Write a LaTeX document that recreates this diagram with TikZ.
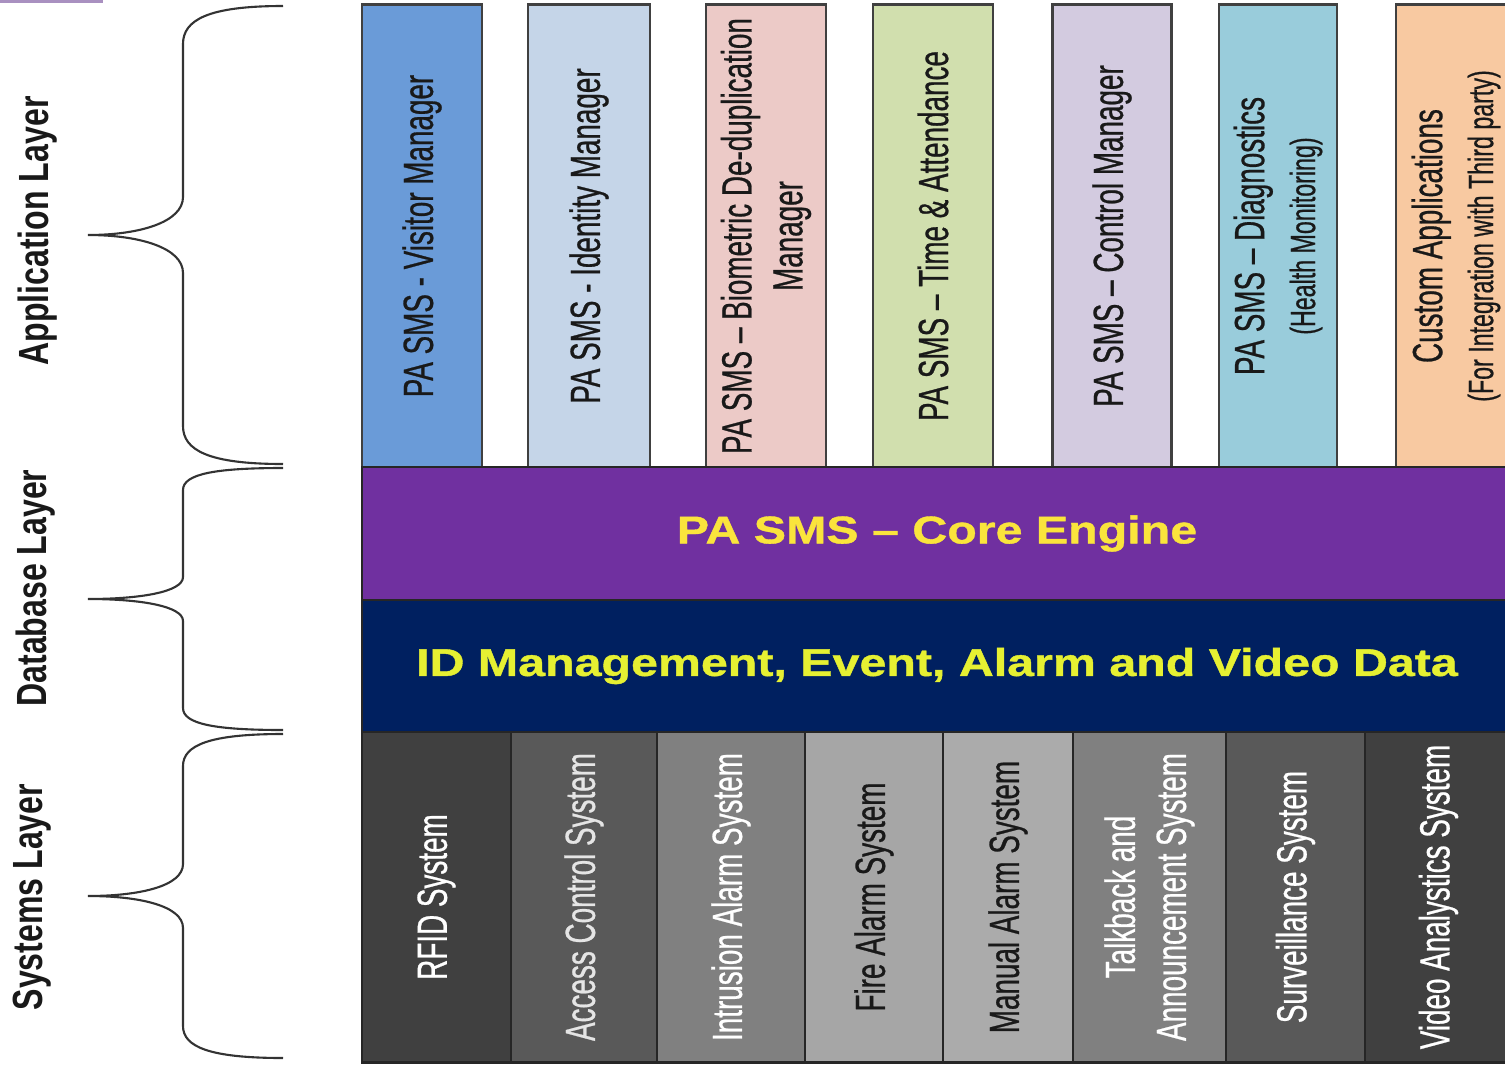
\documentclass[tikz,border=0pt]{standalone}
\usepackage{fontspec}
\setmainfont{Liberation Sans}
\newfontfamily\narrowfont[FakeStretch=0.66,FakeBold=0.6]{Liberation Sans}
\newfontfamily\layerfont[FakeStretch=0.76]{Liberation Sans}
\newfontfamily\widefont[FakeStretch=1.25,FakeBold=1]{Liberation Sans}

\definecolor{visitorblue}{RGB}{106,155,216}
\definecolor{identityblue}{RGB}{197,213,232}
\definecolor{biopink}{RGB}{236,202,199}
\definecolor{timegreen}{RGB}{209,223,174}
\definecolor{controllilac}{RGB}{211,203,224}
\definecolor{diagteal}{RGB}{153,204,219}
\definecolor{custompeach}{RGB}{248,201,161}
\definecolor{corepurple}{RGB}{112,48,160}
\definecolor{datanavy}{RGB}{0,32,96}
\definecolor{coreyellow}{RGB}{250,228,60}
\definecolor{datayellow}{RGB}{230,240,50}
\definecolor{sliver}{RGB}{169,144,192}

\begin{document}
\begin{tikzpicture}[x=0.01cm,y=-0.01cm,
    app box/.style={rotate=90,draw=black!75,line width=0.8pt,minimum width=4.62cm,
      minimum height=1.2cm,inner sep=0pt,align=center,text=black!90,
      font=\narrowfont\fontsize{12}{14.5}\selectfont},
    sys box/.style={rotate=90,draw=black!85,line width=0.8pt,minimum width=3.3cm,
      inner sep=0pt,align=center,font=\narrowfont\fontsize{12}{14.5}\selectfont},
    band/.style={draw=black!85,line width=0.6pt,minimum width=11.5cm,inner sep=0pt,
      font=\widefont\bfseries\fontsize{11}{13}\selectfont},
    layer/.style={rotate=90,text=black!90,font=\layerfont\bfseries\fontsize{12}{14}\selectfont},
    brace line/.style={draw=black!80,line width=0.6pt}]

  \useasboundingbox (0,0) rectangle (1505,1069);
  \fill[sliver] (0,0) rectangle (103,3);

  % application layer
  \node[app box,fill=visitorblue] (visitor) at (422,236) {PA SMS - Visitor Manager};
  \node[app box,fill=identityblue,minimum height=1.22cm] (identity) at (589,236) {PA SMS - Identity Manager};
  \node[app box,fill=biopink] (biometric) at (766,236) {PA SMS – Biometric De-duplication\\Manager};
  \node[app box,fill=timegreen] (time) at (933,236) {PA SMS – Time \& Attendance};
  \node[app box,fill=controllilac,minimum height=1.19cm] (control) at (1112,236) {PA SMS – Control Manager};
  \node[app box,fill=diagteal,minimum height=1.18cm] (diagnostics) at (1278,236)
    {PA SMS – Diagnostics\\{\fontsize{10}{12}\selectfont(Health Monitoring)}};
  \node[app box,fill=custompeach] (custom) at (1456,236)
    {Custom Applications\\{\fontsize{10}{12}\selectfont(For Integration with Third party)}};

  % database layer
  \node[band,fill=corepurple,text=coreyellow,minimum height=1.33cm] (core) at (937,533.5) {PA SMS – Core Engine};
  \node[band,fill=datanavy,text=datayellow,minimum height=1.32cm] (data) at (937,666) {ID Management, Event, Alarm and Video Data};

  % systems layer
  \node[sys box,fill=black!75,text=white,minimum height=1.49cm] (rfid) at (436.5,897) {RFID System};
  \node[sys box,fill=black!65,text=black!10,minimum height=1.46cm] (access) at (584,897) {Access Control System};
  \node[sys box,fill=black!50,text=white,minimum height=1.48cm] (intrusion) at (731,897) {Intrusion Alarm System};
  \node[sys box,fill=black!35,text=black!90,minimum height=1.38cm] (fire) at (874,897) {Fire Alarm System};
  \node[sys box,fill=black!33,text=black!90,minimum height=1.30cm] (manual) at (1008,897) {Manual Alarm System};
  \node[sys box,fill=black!50,text=white,minimum height=1.53cm] (talkback) at (1149.5,897) {Talkback and\\Announcement System};
  \node[sys box,fill=black!65,text=white,minimum height=1.39cm] (surveillance) at (1295.5,897) {Surveillance System};
  \node[sys box,fill=black!75,text=white,minimum height=1.47cm] (video) at (1438.5,897) {Video Analystics System};

  % layer labels and braces
  \node[layer] (applayer) at (38,231) {Application Layer};
  \node[layer] (dblayer) at (36,588) {Database Layer};
  \node[layer] (syslayer) at (32,897) {Systems Layer};

  \draw[brace line] (283,6) .. controls (208,6) and (183,20) .. (183,44) -- (183,197)
    .. controls (183,222) and (140,235) .. (88,235) .. controls (140,235) and (183,248) .. (183,273)
    -- (183,426) .. controls (183,450) and (208,464) .. (283,464);
  \draw[brace line] (283,468) .. controls (215,468) and (183,474) .. (183,490) -- (183,577)
    .. controls (183,592) and (140,599) .. (88,599) .. controls (140,599) and (183,606) .. (183,621)
    -- (183,708) .. controls (183,724) and (215,730) .. (283,730);
  \draw[brace line] (283,734) .. controls (210,734) and (183,745) .. (183,766) -- (183,864)
    .. controls (183,886) and (140,896) .. (88,896) .. controls (140,896) and (183,906) .. (183,928)
    -- (183,1026) .. controls (183,1047) and (210,1058) .. (283,1058);
\end{tikzpicture}
\end{document}
